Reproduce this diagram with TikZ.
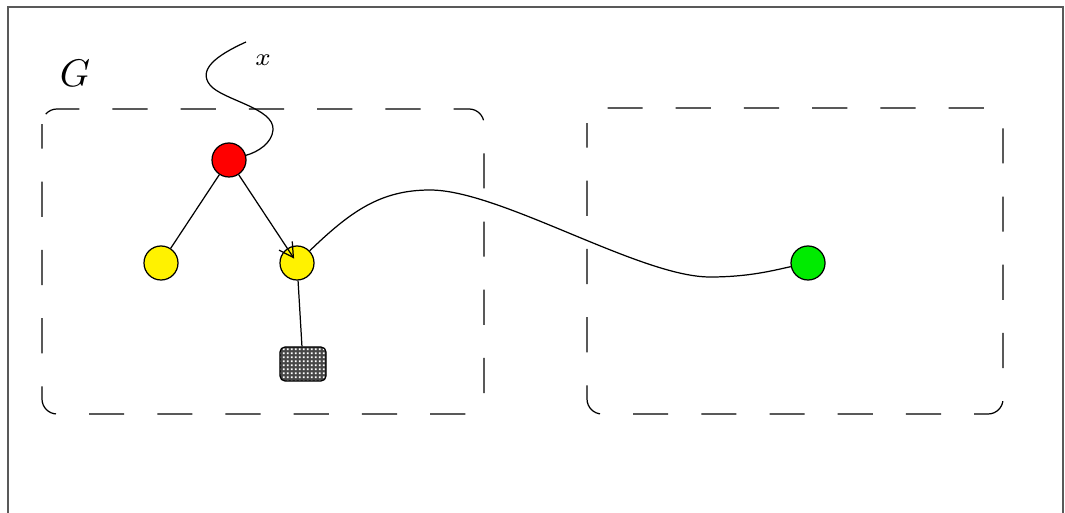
\documentclass[tikz,border=0pt]{standalone}
\usetikzlibrary{arrows.meta,patterns}

% small white dots on a dark ground
\pgfdeclarepatternformonly{finedots}{\pgfqpoint{0pt}{0pt}}{\pgfqpoint{1.2pt}{1.2pt}}{\pgfqpoint{1.2pt}{1.2pt}}{%
  \pgfpathrectangle{\pgfqpoint{0.3pt}{0.3pt}}{\pgfqpoint{0.6pt}{0.6pt}}%
  \pgfusepath{fill}}

\begin{document}
\begin{tikzpicture}[x=0.01cm, y=-0.01cm, line width=0.35pt,
	vertex/.style={circle, draw=black, minimum size=0.34cm, inner sep=0pt},
	region/.style={draw=black, rounded corners=0.15cm, dash pattern=on 10pt off 9.4pt, dash phase=3pt},
	store/.style={draw=black, rounded corners=0.05cm, minimum width=0.46cm, minimum height=0.34cm, inner sep=0pt,
		preaction={fill=black!72}, pattern=finedots, pattern color=white}]
	\useasboundingbox (0,0) rectangle (1065,513);
	% outer frame
	\draw[black!65, line width=0.6pt] (8,513) -- (8,7) -- (1063,7) -- (1063,513);

	% the two regions
	\draw[region] (42,109) rectangle (484,414);
	\draw[region] (587,108) rectangle (1003,414);
	\node (glabel) at (75,73) {\fontsize{11}{13}\selectfont$G$};

	% vertices
	\node[vertex, fill=red] (r) at (229,160) {};
	\node[vertex, fill=yellow] (yl) at (161,263) {};
	\node[vertex, fill=yellow] (yr) at (297,263) {};
	\node[vertex, fill={rgb,255:red,0;green,235;blue,0}] (g) at (808,263) {};
	\node[store] (s) at (303,364) {};

	% edges
	\draw (r) -- (yl);
	\draw[-{Straight Barb[length=4pt,width=4.5pt]}, shorten >=-3.5pt] (r) -- (yr);
	\draw (yr) -- (s);
	\draw (yr) .. controls (350,212) and (380,190) .. (430,190)
		.. controls (500,190) and (640,277) .. (710,277)
		.. controls (750,277) and (775,270) .. (g);

	% incoming wire x
	\coordinate (xtop) at (246,42);
	\draw (xtop) .. controls (215,56) and (198,70) .. (210,85)
		.. controls (222,100) and (275,108) .. (273,130)
		.. controls (272,143) and (258,152) .. (r);
	\node (xlabel) at (263,60) {\fontsize{7}{8}\selectfont$x$};
\end{tikzpicture}
\end{document}
